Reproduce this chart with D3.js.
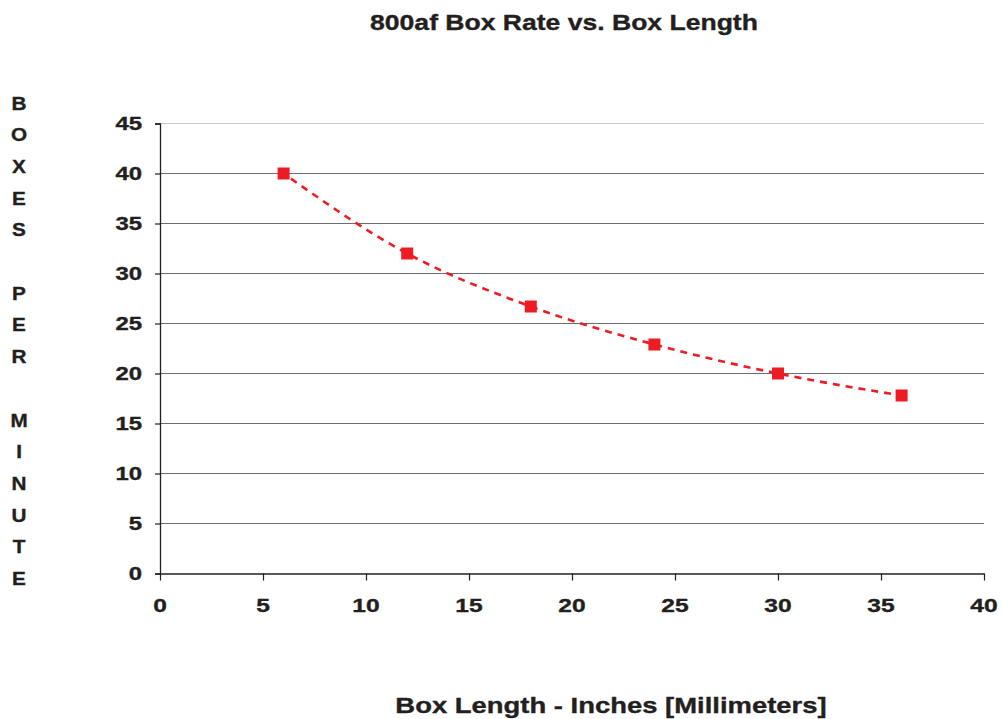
<!DOCTYPE html>
<html>
<head>
<meta charset="utf-8">
<script src="https://cdn.jsdelivr.net/npm/d3@7"></script>
<style>
  html, body { margin: 0; padding: 0; background: #fff; }
  svg { display: block; }
  text { font-family: "Liberation Sans", Arial, sans-serif; font-weight: bold; fill: #231f20; stroke: #231f20; stroke-width: 0.35px; }
</style>
</head>
<body>
<svg id="chart" width="1002" height="719"></svg>
<script>
// ---- data ----
const boxLength = [6, 12, 18, 24, 30, 36];
const boxesPerMinute = [40, 32, 26.7, 22.9, 20, 17.8];
const xTicks = [0, 5, 10, 15, 20, 25, 30, 35, 40];
const yTicks = [0, 5, 10, 15, 20, 25, 30, 35, 40, 45];
const titleText = "800af Box Rate vs. Box Length";
const xTitleText = "Box Length - Inches [Millimeters]";
const yTitleText = "BOXES PER MINUTE";

const svg = d3.select("#chart");
const x = d3.scaleLinear().domain([0, 40]).range([160, 984]);
const y = d3.scaleLinear().domain([0, 45]).range([573.5, 123.5]);

function stretchedText(px, py, str, size, sx, anchor) {
  const g = svg.append("g").attr("transform", `translate(${px},${py}) scale(${sx},1)`);
  g.append("text").attr("x", 0).attr("y", 0)
    .attr("font-size", size).attr("text-anchor", anchor).text(str);
  return g;
}

// gridlines
svg.append("g").selectAll("line").data(yTicks.filter(d => d > 0)).join("line")
  .attr("x1", x(0)).attr("x2", x(40))
  .attr("y1", d => y(d)).attr("y2", d => y(d))
  .attr("stroke", d => d === 45 ? "#c8c8c8" : "#6d6d6d")
  .attr("stroke-width", 1.2);

// y axis
const yAxis = d3.axisLeft(y).tickValues(yTicks).tickSize(5).tickFormat("");
svg.append("g").attr("transform", `translate(${x(0)},0)`).call(yAxis)
  .call(g => g.select(".domain").attr("stroke", "#231f20").attr("stroke-width", 1.3))
  .call(g => g.selectAll(".tick line").attr("stroke", "#231f20").attr("stroke-width", 1.2));

// x axis
const xAxis = d3.axisBottom(x).tickValues(xTicks).tickSize(7).tickSizeOuter(0).tickFormat("");
svg.append("g").attr("transform", `translate(0,${y(0)})`).call(xAxis)
  .call(g => g.select(".domain").attr("stroke", "#231f20").attr("stroke-width", 1.3))
  .call(g => g.selectAll(".tick line").attr("stroke", "#231f20").attr("stroke-width", 1.2));

// tick labels
yTicks.forEach(d => stretchedText(142, y(d) + 6, String(d), 18, 1.33, "end"));
xTicks.forEach(d => stretchedText(x(d), 612, String(d), 18.5, 1.33, "middle"));

// trend line (dashed) through the points
const pts = boxLength.map((d, i) => [d, boxesPerMinute[i]]);
const line = d3.line().x(d => x(d[0])).y(d => y(d[1])).curve(d3.curveMonotoneX);
svg.append("path").datum(pts).attr("d", line)
  .attr("fill", "none").attr("stroke", "#ed1c24").attr("stroke-width", 2.6)
  .attr("stroke-dasharray", "7,6").attr("stroke-dashoffset", -9);

// markers
svg.append("g").selectAll("rect").data(pts).join("rect")
  .attr("x", d => x(d[0]) - 6).attr("y", d => y(d[1]) - 6)
  .attr("width", 12).attr("height", 12).attr("fill", "#ed1c24");

// titles
stretchedText(564, 30, titleText, 22.5, 1.18, "middle");
stretchedText(611, 713, xTitleText, 22.5, 1.22, "middle");

// vertical stacked y title
const words = yTitleText.split(" ");
let letters = [];
words.forEach((w, i) => { letters = letters.concat(w.split("")); if (i < words.length - 1) letters.push(" "); });
letters.forEach((ch, i) => {
  if (ch !== " ") stretchedText(19, 109.5 + i * 31.7, ch, 18.5, 1.12, "middle");
});
</script>
</body>
</html>
